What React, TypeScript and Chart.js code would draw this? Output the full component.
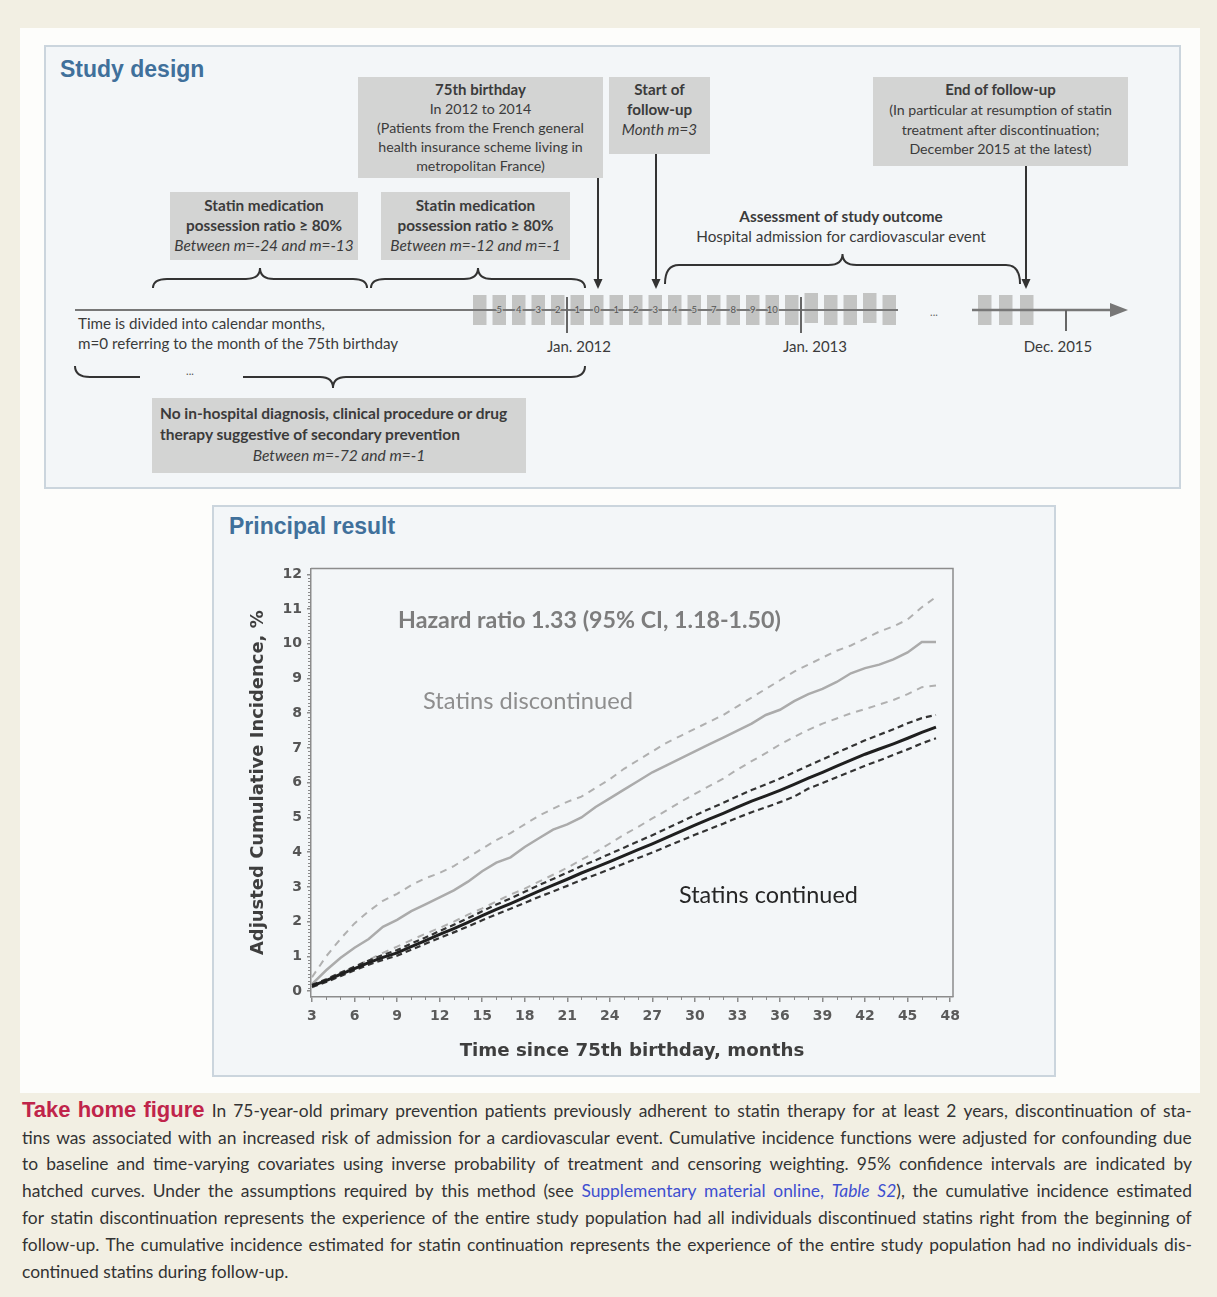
import React, { useEffect, useRef } from "react";
import { Chart, registerables } from "chart.js";

Chart.register(...registerables);

// ---------------- Data ----------------
const months = [3, 4, 5, 6, 7, 8, 9, 10, 11, 12, 13, 14, 15, 16, 17, 18, 19, 20, 21, 22, 23, 24, 25, 26, 27, 28, 29, 30, 31, 32, 33, 34, 35, 36, 37, 38, 39, 40, 41, 42, 43, 44, 45, 46, 47];

const discontinued = [0.2, 0.6, 0.95, 1.25, 1.5, 1.85, 2.05, 2.3, 2.5, 2.7, 2.9, 3.15, 3.45, 3.7, 3.85, 4.15, 4.4, 4.65, 4.8, 5.0, 5.3, 5.55, 5.8, 6.05, 6.3, 6.5, 6.7, 6.9, 7.1, 7.3, 7.5, 7.7, 7.95, 8.1, 8.35, 8.55, 8.7, 8.9, 9.15, 9.3, 9.4, 9.55, 9.75, 10.05, 10.05];
const discontinuedUpper = [0.4, 1.0, 1.5, 1.95, 2.3, 2.6, 2.8, 3.05, 3.25, 3.4, 3.6, 3.85, 4.1, 4.35, 4.55, 4.8, 5.05, 5.25, 5.45, 5.6, 5.85, 6.1, 6.4, 6.65, 6.9, 7.15, 7.35, 7.55, 7.75, 7.95, 8.2, 8.45, 8.7, 8.95, 9.2, 9.4, 9.6, 9.8, 9.95, 10.15, 10.35, 10.5, 10.7, 11.05, 11.35];
const discontinuedLower = [0.1, 0.3, 0.5, 0.7, 0.9, 1.1, 1.28, 1.47, 1.65, 1.82, 2.0, 2.2, 2.38, 2.58, 2.78, 2.95, 3.15, 3.35, 3.55, 3.78, 4.0, 4.25, 4.5, 4.73, 4.97, 5.2, 5.45, 5.68, 5.9, 6.12, 6.38, 6.62, 6.85, 7.1, 7.32, 7.52, 7.7, 7.85, 8.0, 8.12, 8.25, 8.38, 8.55, 8.75, 8.8];

const continued = [0.15, 0.3, 0.48, 0.65, 0.82, 0.97, 1.1, 1.28, 1.45, 1.63, 1.8, 1.98, 2.17, 2.35, 2.52, 2.7, 2.88, 3.05, 3.22, 3.4, 3.56, 3.73, 3.9, 4.07, 4.24, 4.42, 4.6, 4.78, 4.95, 5.12, 5.3, 5.47, 5.62, 5.78, 5.95, 6.13, 6.3, 6.48, 6.65, 6.82, 6.97, 7.12, 7.28, 7.45, 7.6];
const continuedUpper = [0.18, 0.34, 0.53, 0.7, 0.88, 1.04, 1.18, 1.37, 1.54, 1.73, 1.91, 2.1, 2.3, 2.49, 2.67, 2.86, 3.05, 3.23, 3.41, 3.6, 3.77, 3.95, 4.13, 4.31, 4.49, 4.68, 4.87, 5.06, 5.24, 5.42, 5.61, 5.79, 5.95, 6.12, 6.3, 6.49, 6.67, 6.86, 7.04, 7.22, 7.38, 7.54, 7.71, 7.86, 7.95];
const continuedLower = [0.12, 0.26, 0.43, 0.6, 0.76, 0.9, 1.02, 1.19, 1.36, 1.53, 1.69, 1.86, 2.04, 2.21, 2.37, 2.54, 2.71, 2.87, 3.03, 3.2, 3.35, 3.51, 3.67, 3.83, 3.99, 4.16, 4.33, 4.5, 4.66, 4.82, 4.99, 5.15, 5.29, 5.44, 5.6, 5.83, 5.99, 6.16, 6.32, 6.49, 6.64, 6.8, 6.96, 7.13, 7.28];

const xTickValues = [3, 6, 9, 12, 15, 18, 21, 24, 27, 30, 33, 36, 39, 42, 45, 48];
const yTickValues = [0, 1, 2, 3, 4, 5, 6, 7, 8, 9, 10, 11, 12];

const xTitle = "Time since 75th birthday, months";
const yTitle = "Adjusted Cumulative Incidence, %";

const annotations = [
  { text: "Hazard ratio 1.33 (95% CI, 1.18-1.50)", x: 9.07, y: 10.66, width: 383, color: "#7d7d7d", weight: "bold" },
  { text: "Statins discontinued", x: 10.83, y: 8.33, width: 210, color: "#8e8e8e", weight: "normal" },
  { text: "Statins continued", x: 28.88, y: 2.76, width: 179, color: "#262626", weight: "normal" },
];

// timeline month labels (study design)
const monthGroupLabels = ["", "5", "4", "3", "2", "1", "0", "1", "2", "3", "4", "5", "7", "8", "9", "10", "", "", "", "", "", ""];
const tallBoxes = [17, 20];

// ---------------- helpers ----------------
const toPts = (ys: number[]) => months.map((m, i) => ({ x: m, y: ys[i] }));

function fitFont(ctx: CanvasRenderingContext2D, text: string, family: string, weight: string, target: number) {
  const base = 20;
  ctx.font = `${weight} ${base}px ${family}`;
  const w = ctx.measureText(text).width;
  const size = (base * target) / w;
  ctx.font = `${weight} ${size}px ${family}`;
  return size;
}

const decorPlugin = {
  id: "decor",
  afterDraw(chart: any) {
    const { ctx, chartArea, scales } = chart;
    const { left, right, top, bottom } = chartArea;
    const x = scales.x;
    const y = scales.y;
    ctx.save();
    ctx.strokeStyle = "#8c8c8c";
    ctx.lineWidth = 1.5;
    ctx.beginPath();
    ctx.moveTo(left, top);
    ctx.lineTo(right, top);
    ctx.lineTo(right, bottom);
    ctx.stroke();

    // minor ticks
    ctx.lineWidth = 1;
    ctx.strokeStyle = "#8a8a8a";
    ctx.beginPath();
    for (let m = 4; m <= 47; m++) {
      if (m % 3 === 0) continue;
      const px = Math.round(x.getPixelForValue(m)) + 0.5;
      ctx.moveTo(px, bottom);
      ctx.lineTo(px, bottom + 3);
    }
    for (let i = 1; i < 121; i++) {
      if (i % 10 === 0) continue;
      const py = Math.round(y.getPixelForValue(i / 10)) + 0.5;
      ctx.moveTo(left - 3, py);
      ctx.lineTo(left, py);
    }
    ctx.stroke();

    // axis titles
    ctx.fillStyle = "#3e3e3e";
    ctx.textAlign = "center";
    ctx.textBaseline = "middle";
    fitFont(ctx, xTitle, "'DejaVu Sans'", "bold", 345);
    ctx.fillText(xTitle, (left + right) / 2, bottom + 54);
    ctx.save();
    ctx.translate(left - 53, (top + bottom) / 2);
    ctx.rotate(-Math.PI / 2);
    fitFont(ctx, yTitle, "'DejaVu Sans'", "bold", 345);
    ctx.fillText(yTitle, 0, 0);
    ctx.restore();

    // annotations
    ctx.textAlign = "left";
    for (const a of annotations) {
      fitFont(ctx, a.text, "Lato", a.weight, a.width);
      ctx.fillStyle = a.color;
      ctx.fillText(a.text, x.getPixelForValue(a.x), y.getPixelForValue(a.y));
    }
    ctx.restore();
  },
};

function ResultChart() {
  const ref = useRef<HTMLCanvasElement>(null);
  useEffect(() => {
    const chart = new Chart(ref.current as HTMLCanvasElement, {
      type: "line",
      data: {
        datasets: [
          { data: toPts(continued), borderColor: "#1f1f1f", borderWidth: 3, pointRadius: 0, fill: false, tension: 0 },
          { data: toPts(continuedUpper), borderColor: "#333", borderWidth: 2.2, borderDash: [6, 4], pointRadius: 0, fill: false },
          { data: toPts(continuedLower), borderColor: "#333", borderWidth: 2.2, borderDash: [6, 4], pointRadius: 0, fill: false },
          { data: toPts(discontinued), borderColor: "#ababab", borderWidth: 2.5, pointRadius: 0, fill: false },
          { data: toPts(discontinuedUpper), borderColor: "#b0b0b0", borderWidth: 2, borderDash: [7, 6], pointRadius: 0, fill: false },
          { data: toPts(discontinuedLower), borderColor: "#b0b0b0", borderWidth: 2, borderDash: [7, 6], pointRadius: 0, fill: false },
        ],
      } as any,
      options: {
        responsive: false,
        animation: false,
        devicePixelRatio: 1,
        layout: { padding: { left: 0, right: 103, top: 8, bottom: 0 } },
        plugins: { legend: { display: false }, tooltip: { enabled: false } },
        scales: {
          x: {
            type: "linear",
            min: 2.93,
            max: 48.2,
            afterFit: (s: any) => { s.height = 78; },
            afterBuildTicks: (s: any) => { s.ticks = xTickValues.map((v) => ({ value: v })); },
            ticks: { color: "#5a5a5a", font: { family: "'DejaVu Sans'", size: 14, weight: "bold" }, padding: 6, maxRotation: 0, autoSkip: false },
            grid: { display: true, drawOnChartArea: false, drawTicks: true, tickLength: 5, color: "#8c8c8c", lineWidth: 1.5 },
            border: { display: true, color: "#8c8c8c", width: 1.5 },
          },
          y: {
            type: "linear",
            min: -0.17,
            max: 12.17,
            afterFit: (s: any) => { s.width = 99; },
            afterBuildTicks: (s: any) => { s.ticks = yTickValues.map((v) => ({ value: v })); },
            ticks: { color: "#555", font: { family: "'DejaVu Sans'", size: 14, weight: "bold" }, padding: 5, autoSkip: false },
            grid: { display: true, drawOnChartArea: false, drawTicks: true, tickLength: 4, color: "#8c8c8c", lineWidth: 1.5 },
            border: { display: true, color: "#8c8c8c", width: 1.5 },
          },
        },
      } as any,
      plugins: [decorPlugin as any],
    });
    return () => chart.destroy();
  }, []);
  return (
    <canvas ref={ref} width={844} height={520} style={{ position: "absolute", left: 212, top: 555, width: 844, height: 520 }} />
  );
}

// ---------------- Study design ----------------
const TXT = "#3b3b3b";
const BOXBG = "#d3d4d3";

type Line = { t: string; b?: boolean; i?: boolean; c?: boolean };

function GBox(props: { x: number; y: number; w: number; h: number; lines: Line[]; lh: number; pt: number; fs?: number; fb?: number; fi?: number; align?: "center" | "left"; bg?: string }) {
  const { x, y, w, h, lines, lh, pt, fs = 14.2, fb = 15, fi = 15.2, align = "center", bg = BOXBG } = props;
  return (
    <div style={{ position: "absolute", left: x, top: y, width: w, height: h, background: bg, boxSizing: "border-box", paddingTop: pt, fontFamily: "Lato, sans-serif", color: TXT, lineHeight: `${lh}px`, textAlign: align }}>
      {lines.map((l, k) => (
        <div key={k} style={{ fontSize: l.b ? fb : l.i ? fi : fs, fontWeight: l.b ? 700 : 400, fontStyle: l.i ? "italic" : "normal", whiteSpace: "nowrap", textAlign: l.c ? "center" : align, paddingLeft: align === "left" && !l.c ? 8 : 0 }}>{l.t}</div>
      ))}
    </div>
  );
}

function braceUp(x1: number, x2: number, yLine: number, yEnd: number, yCusp: number) {
  const xm = (x1 + x2) / 2;
  const r = 14;
  return `M ${x1} ${yEnd} Q ${x1} ${yLine} ${x1 + r} ${yLine} L ${xm - r} ${yLine} Q ${xm} ${yLine} ${xm} ${yCusp} Q ${xm} ${yLine} ${xm + r} ${yLine} L ${x2 - r} ${yLine} Q ${x2} ${yLine} ${x2} ${yEnd}`;
}

function Arrow({ x, y1, y2 }: { x: number; y1: number; y2: number }) {
  return (
    <g>
      <line x1={x} y1={y1} x2={x} y2={y2 - 9} stroke="#333" strokeWidth={2} />
      <polygon points={`${x - 4.5},${y2 - 10} ${x + 4.5},${y2 - 10} ${x},${y2}`} fill="#333" />
    </g>
  );
}

const plain: React.CSSProperties = { position: "absolute", fontFamily: "Lato, sans-serif", color: TXT, whiteSpace: "nowrap" };

function StudyDesign() {
  const boxes1 = monthGroupLabels.map((_, i) => 473 + 19.5 * i);
  const boxes2 = [978, 999, 1020];
  return (
    <>
      <div style={{ position: "absolute", left: 44, top: 45, width: 1137, height: 444, boxSizing: "border-box", border: "2px solid #cbd5dd", background: "#f3f6f8" }} />
      <div style={{ position: "absolute", left: 60, top: 56, fontFamily: "'Liberation Sans', Arial, sans-serif", fontWeight: 700, fontSize: 23, color: "#40709b" }}>Study design</div>

      <GBox x={358} y={77} w={245} h={101} lh={19} pt={3} lines={[{ t: "75th birthday", b: true }, { t: "In 2012 to 2014" }, { t: "(Patients from the French general" }, { t: "health insurance scheme living in" }, { t: "metropolitan France)" }]} />
      <GBox x={609} y={77} w={101} h={77} lh={20} pt={2} fs={15} fb={15.2} fi={15.2} lines={[{ t: "Start of", b: true }, { t: "follow-up", b: true }, { t: "Month m=3", i: true }]} />
      <GBox x={873} y={77} w={255} h={89} lh={19.8} pt={3} lines={[{ t: "End of follow-up", b: true }, { t: "(In particular at resumption of statin" }, { t: "treatment after discontinuation;" }, { t: "December 2015 at the latest)" }]} />
      <GBox x={170} y={192} w={188} h={68} lh={20} pt={3} fb={15.3} fi={15.4} lines={[{ t: "Statin medication", b: true }, { t: "possession ratio ≥ 80%", b: true }, { t: "Between m=-24 and m=-13", i: true }]} />
      <GBox x={381} y={192} w={189} h={68} lh={20} pt={3} fb={15.3} fi={15.4} lines={[{ t: "Statin medication", b: true }, { t: "possession ratio ≥ 80%", b: true }, { t: "Between m=-12 and m=-1", i: true }]} />
      <GBox x={152} y={398} w={374} h={75} lh={21} pt={5} fb={15.5} fi={15.6} align="left" lines={[{ t: "No in-hospital diagnosis, clinical procedure or drug", b: true }, { t: "therapy suggestive of secondary prevention", b: true }, { t: "Between m=-72 and m=-1", i: true, c: true }]} />

      <div style={{ ...plain, left: 620, top: 206, width: 442, textAlign: "center", lineHeight: "20px" }}>
        <div style={{ fontWeight: 700, fontSize: 15.3 }}>Assessment of study outcome</div>
        <div style={{ fontSize: 15.3 }}>Hospital admission for cardiovascular event</div>
      </div>

      <div style={{ ...plain, left: 78, top: 313, fontSize: 15.2, lineHeight: "20px" }}>
        <div>Time is divided into calendar months,</div>
        <div>m=0 referring to the month of the 75th birthday</div>
      </div>

      {[{ t: "Jan. 2012", x: 579 }, { t: "Jan. 2013", x: 815 }, { t: "Dec. 2015", x: 1058 }].map((d) => (
        <div key={d.t} style={{ ...plain, left: d.x - 50, top: 337, width: 100, textAlign: "center", fontSize: 15 }}>{d.t}</div>
      ))}

      <svg width={1217} height={500} style={{ position: "absolute", left: 0, top: 0 }}>
        {/* braces */}
        <path d={braceUp(153, 367, 279, 288, 268)} fill="none" stroke="#333" strokeWidth={2} />
        <path d={braceUp(371, 585, 279, 288, 268)} fill="none" stroke="#333" strokeWidth={2} />
        <path d={braceUp(665, 1020, 265, 284, 254)} fill="none" stroke="#333" strokeWidth={2} />
        <path d="M 75 366 Q 75 377 90 377 L 140 377" fill="none" stroke="#333" strokeWidth={2} />
        <path d="M 243 377 L 320 377 Q 333 377 333 388 Q 333 377 346 377 L 571 377 Q 585 377 585 366" fill="none" stroke="#333" strokeWidth={2} />
        <text x={190} y={375} fontSize={11} fill="#555" textAnchor="middle" fontFamily="Lato">...</text>

        {/* arrows */}
        <Arrow x={598} y1={178} y2={289} />
        <Arrow x={656} y1={154} y2={289} />
        <Arrow x={1026} y1={166} y2={289} />

        {/* month boxes */}
        {boxes1.map((bx, i) => (
          <rect key={i} x={bx} y={tallBoxes.includes(i) ? 293 : 295} width={13.5} height={30} fill="#c3c4c3" />
        ))}
        {boxes2.map((bx, i) => (
          <rect key={"b" + i} x={bx} y={295} width={13.5} height={30} fill="#c3c4c3" />
        ))}

        {/* timeline */}
        <line x1={75} y1={310} x2={898} y2={310} stroke="#777" strokeWidth={2} />
        <line x1={972} y1={310} x2={1112} y2={310} stroke="#777" strokeWidth={2.5} />
        <polygon points="1110,303 1128,310 1110,317" fill="#777" />
        <line x1={567} y1={297} x2={567} y2={333} stroke="#666" strokeWidth={2} />
        <line x1={801} y1={297} x2={801} y2={333} stroke="#666" strokeWidth={2} />
        <line x1={1066} y1={310} x2={1066} y2={331} stroke="#666" strokeWidth={2} />
        <text x={934} y={316} fontSize={11} fill="#666" textAnchor="middle" fontFamily="Lato">...</text>

        {monthGroupLabels.map((l, i) =>
          l ? (
            <text key={"l" + i} x={boxes1[i] + 6.75} y={313} fontSize={9.5} fill="#555" textAnchor="middle" fontFamily="Lato" stroke="#c3c4c3" strokeWidth={2.5} paintOrder="stroke">{l}</text>
          ) : null
        )}
      </svg>
    </>
  );
}

// ---------------- Caption ----------------
type Seg = { t: string; s?: "b" | "l" | "li" };
const captionLines: Seg[][] = [
  [{ t: "Take home figure", s: "b" }, { t: " In 75-year-old primary prevention patients previously adherent to statin therapy for at least 2 years, discontinuation of sta-" }],
  [{ t: "tins was associated with an increased risk of admission for a cardiovascular event. Cumulative incidence functions were adjusted for confounding due" }],
  [{ t: "to baseline and time-varying covariates using inverse probability of treatment and censoring weighting. 95% confidence intervals are indicated by" }],
  [{ t: "hatched curves. Under the assumptions required by this method (see " }, { t: "Supplementary material online, ", s: "l" }, { t: "Table S2", s: "li" }, { t: "), the cumulative incidence estimated" }],
  [{ t: "for statin discontinuation represents the experience of the entire study population had all individuals discontinued statins right from the beginning of" }],
  [{ t: "follow-up. The cumulative incidence estimated for statin continuation represents the experience of the entire study population had no individuals dis-" }],
  [{ t: "continued statins during follow-up." }],
];

function tokenize(segs: Seg[]) {
  const words: Seg[][] = [];
  let cur: Seg[] = [];
  for (const sg of segs) {
    const parts = sg.t.split(" ");
    parts.forEach((p, k) => {
      if (k > 0) {
        if (cur.length) words.push(cur);
        cur = [];
      }
      if (p) cur.push({ t: p, s: sg.s });
    });
  }
  if (cur.length) words.push(cur);
  return words;
}

function segStyle(s?: string): React.CSSProperties {
  if (s === "b") return { fontFamily: "'Liberation Sans', Arial, sans-serif", fontWeight: 700, color: "#c0244a", fontSize: 22 };
  if (s === "l") return { color: "#3f4fd0" };
  if (s === "li") return { color: "#3f4fd0", fontStyle: "italic" };
  return {};
}

function Caption() {
  return (
    <div style={{ position: "absolute", left: 22, top: 1097, width: 1170, fontFamily: "Lato, sans-serif", fontSize: 17.4, color: "#333" }}>
      {captionLines.map((line, li) => {
        const words = tokenize(line);
        const last = li === captionLines.length - 1;
        return (
          <div key={li} style={{ height: 26.8, display: "flex", alignItems: "center", justifyContent: last ? "flex-start" : "space-between", gap: last ? 4.5 : 0, whiteSpace: "nowrap" }}>
            {words.map((w, wi) => (
              <span key={wi}>
                {w.map((p, pi) => (
                  <span key={pi} style={segStyle(p.s)}>{p.t}</span>
                ))}
              </span>
            ))}
          </div>
        );
      })}
    </div>
  );
}

export default function App() {
  return (
    <div style={{ position: "absolute", left: 0, top: 0, width: 1217, height: 1297, background: "#f2efe3", overflow: "hidden" }}>
      <div style={{ position: "absolute", left: 20, top: 28, width: 1180, height: 1065, background: "#fdfdfb" }} />
      <StudyDesign />
      <div style={{ position: "absolute", left: 212, top: 505, width: 844, height: 572, boxSizing: "border-box", border: "2px solid #cbd5dd", background: "#f3f6f8" }} />
      <div style={{ position: "absolute", left: 229, top: 513, fontFamily: "'Liberation Sans', Arial, sans-serif", fontWeight: 700, fontSize: 23, color: "#40709b" }}>Principal result</div>
      <ResultChart />
      <Caption />
    </div>
  );
}
